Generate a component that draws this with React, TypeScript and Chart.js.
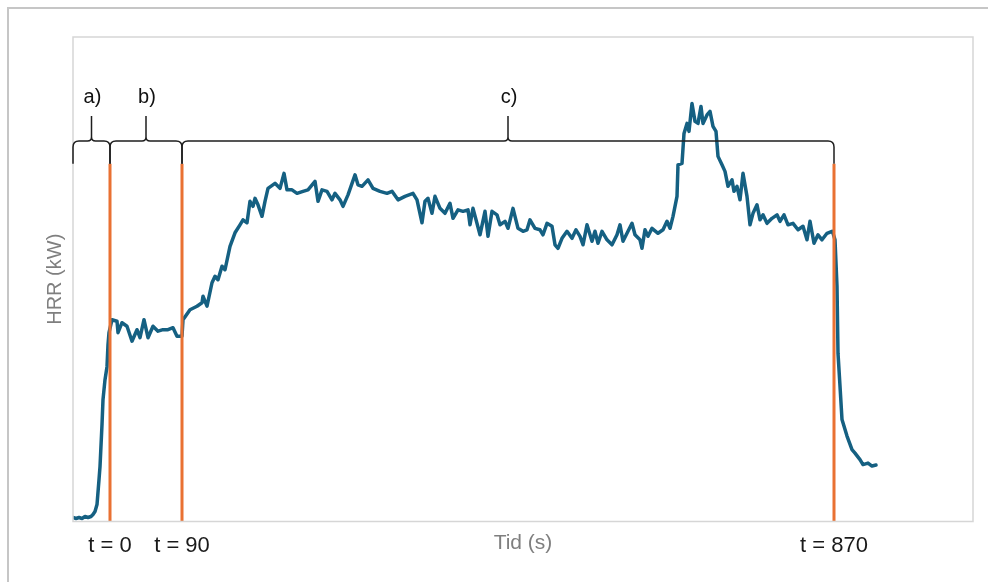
import React, { useEffect, useRef } from 'react';
import { Chart, registerables } from 'chart.js';

Chart.register(...registerables);

// x: sample position along the time axis, y: heat release rate (kW)
const timeSamples = [
  0, 3, 6, 9, 12, 15, 18, 20, 22, 24, 26, 27, 29, 30, 32, 34, 35, 36, 39,
  44, 45, 49, 54, 59, 64, 67, 71, 75, 80, 85, 90, 95, 100, 104, 109,
  110, 117, 124, 129, 130, 134, 139, 142, 145, 149, 152, 157, 162, 167, 170, 174, 177, 180, 182, 185,
  189, 192, 195, 202, 207, 211, 214, 219, 224, 230, 235, 242, 245, 249, 254, 259, 262, 267, 270, 275,
  282, 285, 289, 295, 300, 307, 314, 319, 325, 332, 340, 344, 349, 352, 355, 359, 362, 367, 372, 377,
  380, 385, 390, 395, 397, 400, 407, 412, 415, 419, 424, 427, 432, 435, 440, 445, 450, 454, 457, 462,
  467, 470, 474, 479, 482, 485, 489, 494, 499, 503, 507, 510, 514, 519, 522, 525, 529, 534, 539, 544,
  547, 550, 555, 559, 562, 567, 569, 572, 575, 579, 585, 590, 594, 597, 600, 604, 605, 609, 611, 614,
  616, 619, 622, 625, 628, 630, 634, 637, 640, 643, 645, 649, 652, 655, 659, 661, 664, 667, 670, 674,
  677, 680, 684, 687, 690, 694, 699, 704, 707, 711, 715, 720, 725, 730, 734, 737, 741, 745, 749, 754,
  759, 760, 762, 764, 765, 767, 769, 774, 779, 782, 787, 790, 795, 799, 803,
];

const hrrValues = [
  8, 6, 8, 6, 10, 8, 10, 14, 20, 34, 84, 110, 194, 244, 284, 310, 354, 378, 404,
  401, 378, 398, 391, 361, 384, 368, 404, 368, 391, 381, 384, 384, 388, 371, 371,
  404, 424, 431, 438, 451, 431, 478, 491, 484, 511, 504, 551, 578, 594, 604, 598, 641, 631, 647, 634,
  611, 641, 667, 677, 667, 697, 664, 664, 657, 661, 664, 681, 641, 664, 661, 644, 657, 644, 631, 654,
  694, 674, 671, 684, 667, 661, 657, 661, 644, 651, 657, 644, 598, 641, 647, 617, 651, 627, 617, 637,
  607, 624, 621, 624, 594, 627, 574, 621, 571, 621, 614, 594, 601, 587, 627, 587, 581, 584, 604, 587,
  584, 574, 597, 591, 554, 547, 567, 581, 567, 584, 571, 554, 594, 561, 581, 557, 581, 564, 554, 574,
  594, 561, 581, 597, 574, 564, 547, 584, 571, 587, 577, 584, 601, 587, 611, 651, 714, 717, 777, 797,
  781, 837, 801, 797, 831, 797, 814, 821, 791, 781, 731, 714, 701, 671, 684, 661, 671, 644, 697, 651,
  594, 617, 634, 604, 614, 597, 607, 614, 601, 614, 594, 597, 584, 591, 564, 601, 557, 574, 564, 577,
  581, 577, 564, 471, 337, 271, 204, 171, 144, 137, 124, 114, 117, 111, 113,
];

const phaseMarkers = [37, 109, 761];
const phaseTickLabels = ['t = 0', 't = 90', 't = 870'];
const markerTop = 716;
const braceBounds = [0, 37, 109, 761];
const braceLabels = ['a)', 'b)', 'c)'];

const FONT = '"Liberation Sans", Arial, sans-serif';

const frameAndBraces = {
  id: 'frameAndBraces',
  afterDatasetsDraw(chart: any) {
    const { ctx, chartArea: a, scales } = chart;
    const xs = scales.x;
    const ys = scales.y;
    ctx.save();
    ctx.strokeStyle = '#d6d6d6';
    ctx.lineWidth = 1.5;
    ctx.strokeRect(a.left, a.top, a.right - a.left, a.bottom - a.top);

    const yLine = ys.getPixelForValue(762);
    const yTip = ys.getPixelForValue(812);
    const yEnd = ys.getPixelForValue(markerTop);
    const yLabel = ys.getPixelForValue(848);
    const r = 6;
    const rc = 4;
    ctx.strokeStyle = '#1e1e1e';
    ctx.lineWidth = 1.5;
    ctx.fillStyle = '#111';
    ctx.font = `20px ${FONT}`;
    ctx.textAlign = 'center';
    ctx.textBaseline = 'middle';
    for (let i = 0; i < braceLabels.length; i++) {
      const x0 = xs.getPixelForValue(braceBounds[i]);
      const x1 = xs.getPixelForValue(braceBounds[i + 1]);
      const xm = (x0 + x1) / 2;
      ctx.beginPath();
      ctx.moveTo(x0, yEnd);
      ctx.lineTo(x0, yLine + r);
      ctx.quadraticCurveTo(x0, yLine, x0 + r, yLine);
      ctx.lineTo(xm - rc, yLine);
      ctx.quadraticCurveTo(xm, yLine, xm, yLine - rc);
      ctx.lineTo(xm, yTip);
      ctx.moveTo(xm, yLine - rc);
      ctx.quadraticCurveTo(xm, yLine, xm + rc, yLine);
      ctx.lineTo(x1 - r, yLine);
      ctx.quadraticCurveTo(x1, yLine, x1, yLine + r);
      ctx.lineTo(x1, yEnd);
      ctx.stroke();
      ctx.fillText(braceLabels[i], xm + 1, yLabel);
    }
    ctx.restore();
  },
};

export default function App() {
  const canvasRef = useRef<HTMLCanvasElement | null>(null);

  useEffect(() => {
    const canvas = canvasRef.current;
    if (!canvas) return;
    const markerSets = phaseMarkers.map((m) => ({
      data: [
        { x: m, y: 0 },
        { x: m, y: markerTop },
      ],
      borderColor: '#E97132',
      borderWidth: 3,
      pointRadius: 0,
      tension: 0,
    }));
    const chart = new Chart(canvas, {
      type: 'line',
      data: {
        datasets: [
          ...markerSets,
          {
            data: timeSamples.map((t, i) => ({ x: t, y: hrrValues[i] })),
            borderColor: '#156082',
            borderWidth: 3.5,
            pointRadius: 0,
            tension: 0,
            borderJoinStyle: 'round',
            borderCapStyle: 'round',
          },
        ],
      },
      options: {
        animation: false,
        responsive: false,
        layout: { padding: { left: 43, right: 15, top: 37, bottom: 26.4 } },
        plugins: {
          legend: { display: false },
          tooltip: { enabled: false },
        },
        scales: {
          x: {
            type: 'linear',
            min: 0,
            max: 900,
            grid: { display: false, drawTicks: false },
            border: { display: false },
            afterBuildTicks: (s: any) => {
              s.ticks = phaseMarkers.map((v) => ({ value: v }));
            },
            ticks: {
              autoSkip: false,
              maxRotation: 0,
              padding: 11.5,
              color: '#1a1a1a',
              font: { family: FONT, size: 22 },
              callback: (_v: any, i: number) => phaseTickLabels[i],
            },
            title: {
              display: true,
              text: 'Tid (s)',
              color: '#7f7f7f',
              font: { family: FONT, size: 21 },
              padding: { top: -40.5, bottom: 0 },
            },
          },
          y: {
            type: 'linear',
            min: 0,
            max: 970,
            grid: { display: false, drawTicks: false },
            border: { display: false },
            ticks: { display: false },
            title: {
              display: true,
              text: 'HRR (kW)',
              color: '#7f7f7f',
              font: { family: FONT, size: 20 },
              padding: { top: 0, bottom: 6 },
            },
          },
        },
      },
      plugins: [frameAndBraces],
    } as any);
    return () => chart.destroy();
  }, []);

  return (
    <div style={{ position: 'fixed', inset: 0, background: '#ffffff', overflow: 'hidden' }}>
      <div
        style={{
          position: 'absolute',
          left: 7,
          top: 7,
          width: 1100,
          height: 700,
          border: '2px solid #c6c6c6',
        }}
      />
      <canvas
        ref={canvasRef}
        width={988}
        height={582}
        style={{ position: 'absolute', left: 0, top: 0 }}
      />
    </div>
  );
}
